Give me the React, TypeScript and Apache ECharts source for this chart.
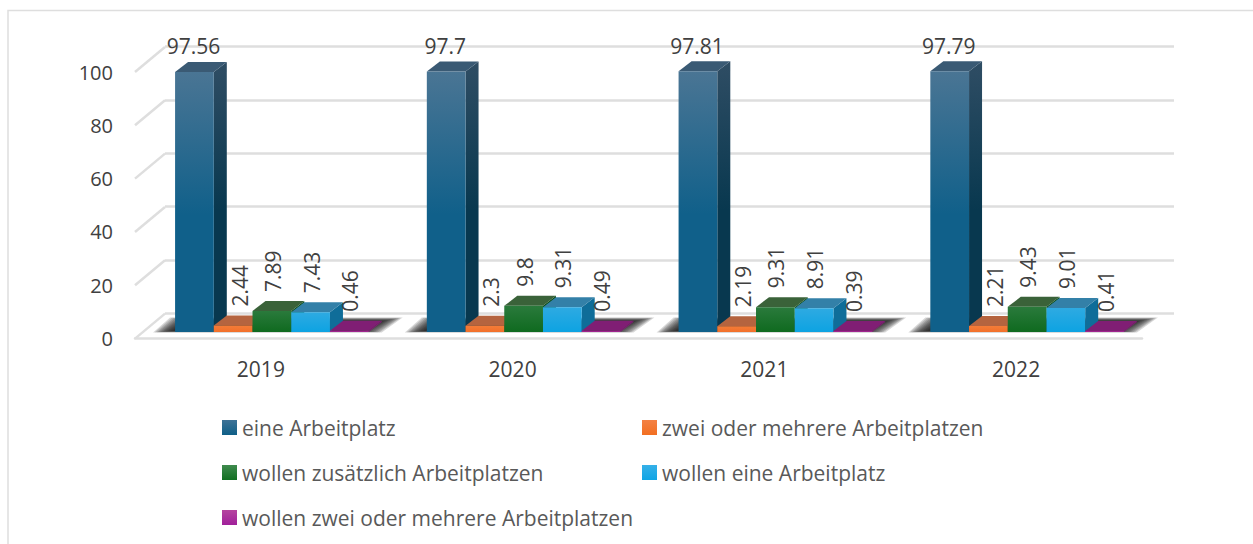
import React, { useEffect, useRef } from "react";
import * as echarts from "echarts";

const categories = ["2019", "2020", "2021", "2022"];
const yTicks = [0, 20, 40, 60, 80, 100];
const names = [
  "eine Arbeitplatz",
  "zwei oder mehrere Arbeitplatzen",
  "wollen zusätzlich Arbeitplatzen",
  "wollen eine Arbeitplatz",
  "wollen zwei oder mehrere Arbeitplatzen",
];
const eineArbeitplatz = [97.56, 97.7, 97.81, 97.79];
const zweiOderMehrere = [2.44, 2.3, 2.19, 2.21];
const wollenZusaetzlich = [7.89, 9.8, 9.31, 9.43];
const wollenEine = [7.43, 9.31, 8.91, 9.01];
const wollenZwei = [0.46, 0.49, 0.39, 0.41];
const seriesValues = [eineArbeitplatz, zweiOderMehrere, wollenZusaetzlich, wollenEine, wollenZwei];

const vGrad = (a: string, b: string, mid = 1) => ({
  type: "linear", x: 0, y: 0, x2: 0, y2: 1,
  colorStops: [{ offset: 0, color: a }, { offset: mid, color: b }, { offset: 1, color: b }],
});

const faces = [
  { front: vGrad("#4a7594", "#10608a", 0.55), side: vGrad("#2f4d64", "#08384f", 0.55), top: "#3a5a74", legend: vGrad("#3d7296", "#0f5f87") },
  { front: vGrad("#f47c38", "#f2702a"), side: "#a8552a", top: "#b5643f", legend: vGrad("#f38144", "#f26f21") },
  { front: vGrad("#2a7a3c", "#0f6a1f"), side: "#0b4f18", top: "#3a6239", legend: vGrad("#3f8a4e", "#117021") },
  { front: vGrad("#2eaae2", "#0da3e2"), side: "#0f6d99", top: "#3380a8", legend: vGrad("#35b0e8", "#10a5e5") },
  { front: "#a0258f", side: "#801e74", top: "#801e74", legend: vGrad("#b5449f", "#a0209a") },
];

const FONT = '"Open Sans", sans-serif';
const GRID_LINE = "#dedede";
const WALL_DX = 30;
const WALL_DY = 25;
const BAR_SHARE = 0.1538;
const DEPTH_X = 13;
const DEPTH_Y = 10;
const SHIFT_X = 11;
const SHIFT_Y = 6.6;
const SHADOW_LAYERS = [0, 1, 2, 3, 4, 5, 6, 7, 8, 9, 10, 11];

const barRender = (s: number) => (_p: any, api: any) => {
  const i = api.value(0);
  const v = api.value(1);
  const base = api.coord([i, 0]);
  const topPt = api.coord([i, v]);
  const w = api.size([1, 0])[0] * BAR_SHARE;
  const x0 = base[0] + SHIFT_X + (s - 2.5) * w;
  const x1 = x0 + w;
  const yb = base[1] - SHIFT_Y;
  const yt = topPt[1] - SHIFT_Y;
  const f = faces[s];
  const cx = (x0 + x1) / 2;
  const label =
    s === 0
      ? { type: "text", x: cx - 1, y: yt - 25.5, style: { text: String(v), fontSize: 21, fontFamily: FONT, fill: "#404040", align: "center", verticalAlign: "middle" } }
      : { type: "text", x: cx + (s === 1 ? 6.5 : 1), y: yt - 19, rotation: Math.PI / 2, style: { text: String(v), fontSize: 21, fontFamily: FONT, fill: "#404040", align: "left", verticalAlign: "middle" } };
  return {
    type: "group",
    children: [
      { type: "polygon", shape: { points: [[x1, yt], [x1 + DEPTH_X, yt - DEPTH_Y], [x1 + DEPTH_X, yb - DEPTH_Y], [x1, yb]] }, style: { fill: f.side } },
      { type: "polygon", shape: { points: [[x0, yt], [x0 + DEPTH_X, yt - DEPTH_Y], [x1 + DEPTH_X, yt - DEPTH_Y], [x1, yt]] }, style: { fill: f.top } },
      { type: "rect", shape: { x: x0, y: yt, width: w, height: yb - yt }, style: { fill: f.front } },
      label,
    ],
  };
};

const shadowRender = (_p: any, api: any) => {
  const i = api.value(0);
  const base = api.coord([i, 0]);
  const w = api.size([1, 0])[0] * BAR_SHARE;
  const x0 = base[0] + SHIFT_X - 2.5 * w;
  const xr = x0 + 5 * w;
  const yb = base[1] - SHIFT_Y;
  return {
    type: "group",
    children: SHADOW_LAYERS.map((k) => ({
      type: "polygon",
      shape: {
        points: [
          [x0 - 22 + k * 1.8, yb + 0.5 - k * 0.15],
          [xr + 13 - k * 2, yb + 0.5 - k * 0.15],
          [xr + 34 - k * 2, yb - 14.5 + k * 0.35],
          [x0 - 5 + k * 1.8, yb - 14.5 + k * 0.35],
        ],
      },
      style: { fill: "rgba(25,25,25,0.17)" },
    })),
  };
};

const wallRender = (p: any, api: any) => {
  const y = api.coord([0, api.value(0)])[1];
  const x = p.coordSys.x;
  return {
    type: "line",
    shape: { x1: x, y1: y, x2: x + WALL_DX, y2: y - WALL_DY },
    style: { stroke: GRID_LINE, lineWidth: 2.5 },
  };
};

const legendAt = (idx: number, left: number, top: number) => ({
  show: true,
  left,
  top,
  padding: 0,
  itemWidth: 15,
  itemHeight: 15,
  icon: "rect",
  selectedMode: false,
  data: [{ name: names[idx], itemStyle: { color: faces[idx].legend } }],
  textStyle: { fontSize: 21, fontFamily: FONT, color: "#595959" },
});

export default function App() {
  const ref = useRef<HTMLDivElement>(null);
  useEffect(() => {
    const chart = echarts.init(ref.current!, undefined, { renderer: "svg" });
    chart.setOption({
      animation: false,
      backgroundColor: "#ffffff",
      grid: [
        { left: 135, top: 72, width: 1007, height: 266.6 },
        { left: 165, top: 46.7, width: 1009, height: 266.6 },
      ],
      xAxis: [
        {
          type: "category", gridIndex: 0, data: categories,
          axisLine: { lineStyle: { color: GRID_LINE, width: 2.5 } },
          axisTick: { show: false },
          axisLabel: { fontSize: 21, fontFamily: FONT, color: "#404040", margin: 20 },
        },
        { type: "category", gridIndex: 1, data: categories, show: false },
      ],
      yAxis: [
        {
          type: "value", gridIndex: 0, min: 0, max: 100, interval: 20,
          axisLine: { show: false }, axisTick: { show: false }, splitLine: { show: false },
          axisLabel: { fontSize: 20, fontFamily: FONT, color: "#404040", margin: 22 },
        },
        {
          type: "value", gridIndex: 1, min: 0, max: 100, interval: 20,
          axisLine: { show: false }, axisTick: { show: false }, axisLabel: { show: false },
          splitLine: { show: true, lineStyle: { color: GRID_LINE, width: 2.5 } },
        },
      ],
      legend: [
        legendAt(0, 222, 417),
        legendAt(1, 642, 417),
        legendAt(2, 222, 462),
        legendAt(3, 642, 462),
        legendAt(4, 222, 507),
      ],
      graphic: {
        elements: [
          {
            type: "polyline",
            shape: { points: [[8, 544], [8, 10.5], [1253, 10.5]] },
            style: { stroke: GRID_LINE, lineWidth: 1.5, fill: "none" },
          },
        ],
      },
      series: [
        {
          type: "custom", xAxisIndex: 0, yAxisIndex: 0, renderItem: wallRender,
          data: yTicks.map((t) => [t]), encode: { y: 0 }, silent: true, z: 1,
        },
        {
          type: "custom", xAxisIndex: 0, yAxisIndex: 0, renderItem: shadowRender,
          data: categories.map((_, i) => [i, 0]), encode: { x: 0, y: 1 }, silent: true, z: 2,
        },
        ...seriesValues.map((vals, s) => ({
          type: "custom",
          name: names[s],
          xAxisIndex: 0,
          yAxisIndex: 0,
          z: 3,
          renderItem: barRender(s),
          data: vals.map((v, i) => [i, v]),
          encode: { x: 0, y: 1 },
        })),
      ],
    });
    return () => chart.dispose();
  }, []);
  return <div ref={ref} style={{ position: "absolute", left: 0, top: 0, width: 1253, height: 544 }} />;
}
